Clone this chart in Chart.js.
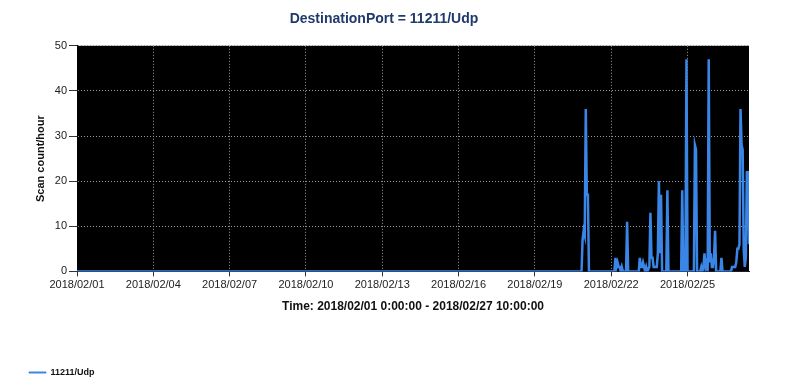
<!DOCTYPE html>
<html>
<head>
<meta charset="utf-8">
<script src="https://cdn.jsdelivr.net/npm/chart.js@4/dist/chart.umd.min.js"></script>
<style>
html,body{margin:0;padding:0;background:#fff;}
#wrap{width:800px;height:390px;}
</style>
</head>
<body>
<div id="wrap"><canvas id="c" width="800" height="390"></canvas></div>
<script>
// Hours since 2018/02/01 0:00 (sparse; the series is 0 between listed points)
const hours = [0, 476, 477, 478, 479, 480, 481, 482, 483,
  507, 508, 509, 510, 511, 512, 513, 514, 515, 518, 519, 520,
  530, 531, 532, 533, 534, 535, 536, 537, 538, 540, 541, 542, 543, 544, 545, 546, 547, 548, 549, 550, 551, 552,
  556, 557, 558,
  570, 571, 572,
  574, 575, 576,
  582, 583, 584, 585,
  588, 589, 590, 591, 592, 593, 594, 595, 596, 597, 598, 599, 600, 601, 602, 603,
  607, 608, 609,
  617, 618, 619, 620, 621, 622, 623, 624, 625, 626, 627, 628, 629, 630, 631, 632, 633, 634];
const scanCounts = [0, 0, 7, 9, 8, 36, 17, 17, 0,
  0, 3, 1, 2, 1, 1, 0, 1, 0, 0, 11, 0,
  0, 3, 1, 1, 2, 1, 0, 1, 0, 1, 13, 3, 3, 1, 1, 1, 1, 4, 20, 4, 17, 0,
  0, 18, 0,
  0, 18, 0,
  0, 47, 0,
  0, 28, 27, 0,
  0, 1, 0, 1, 4, 1, 2, 0, 47, 2, 4, 1, 1, 3, 9, 0,
  0, 3, 0,
  0, 1, 1, 1, 1, 2, 5, 5, 6, 36, 28, 27, 5, 1, 3, 22, 22, 6];
const tickHours = [0, 72, 144, 216, 288, 360, 432, 504, 576];
const tickLabels = ['2018/02/01','2018/02/04','2018/02/07','2018/02/10','2018/02/13','2018/02/16','2018/02/19','2018/02/22','2018/02/25'];
const seriesName = '11211/Udp';
const chartTitle = 'DestinationPort = 11211/Udp';
const xTitle = 'Time: 2018/02/01 0:00:00 - 2018/02/27 10:00:00';
const yTitle = 'Scan count/hour';
const lastHour = 634;

const points = hours.map((h, i) => ({x: h, y: scanCounts[i]}));

const blackArea = {
  id: 'blackArea',
  beforeDraw(chart) {
    const {ctx, chartArea: a} = chart;
    ctx.save();
    ctx.fillStyle = '#000';
    ctx.fillRect(a.left, a.top, a.right - a.left, a.bottom - a.top);
    ctx.restore();
  }
};

const FONT = "'Liberation Sans', Arial, sans-serif";
const LINE = '#3a86e6';

new Chart(document.getElementById('c'), {
  type: 'line',
  data: {
    datasets: [{
      label: seriesName,
      data: points,
      borderColor: LINE,
      backgroundColor: LINE,
      borderWidth: 2.5,
      pointRadius: 0,
      tension: 0,
      fill: false
    }]
  },
  options: {
    responsive: false,
    animation: false,
    layout: {padding: {left: 19, right: 51, top: 0, bottom: 3}},
    plugins: {
      title: {
        display: true,
        text: chartTitle,
        color: '#1f3a6b',
        font: {family: FONT, size: 14, weight: 'bold'},
        padding: {top: 11, bottom: 18}
      },
      legend: {
        display: true,
        position: 'bottom',
        align: 'start',
        labels: {
          boxWidth: 17,
          boxHeight: 1,
          color: '#111',
          font: {family: FONT, size: 9, weight: 'bold'},
          padding: 10,
          generateLabels: (chart) => {
            const items = Chart.defaults.plugins.legend.labels.generateLabels(chart);
            items.forEach(it => { it.lineWidth = 1; });
            return items;
          }
        }
      },
      tooltip: {enabled: false}
    },
    scales: {
      x: {
        type: 'linear',
        min: 0,
        max: lastHour,
        afterBuildTicks: (scale) => { scale.ticks = tickHours.map(v => ({value: v})); },
        ticks: {
          autoSkip: false,
          maxRotation: 0,
          color: '#222',
          font: {family: FONT, size: 11},
          padding: 2,
          callback: (v) => { const i = tickHours.indexOf(v); return i >= 0 ? tickLabels[i] : ''; }
        },
        grid: {
          color: '#9a9a9a',
          lineWidth: 1,
          tickLength: 5,
          tickColor: '#333',
          tickBorderDash: [],
          tickWidth: 1
        },
        border: {display: true, color: '#1a1a3a', width: 1, dash: [1, 2]},
        title: {
          display: true,
          text: xTitle,
          color: '#111',
          font: {family: FONT, size: 12, weight: 'bold'},
          padding: {top: 6, bottom: 44}
        }
      },
      y: {
        min: 0,
        max: 50,
        afterFit: (scale) => { scale.width = 58; },
        ticks: {
          stepSize: 10,
          color: '#222',
          font: {family: FONT, size: 11},
          padding: 2
        },
        grid: {
          color: '#9a9a9a',
          lineWidth: 1,
          tickLength: 8,
          tickColor: '#333',
          tickBorderDash: [],
          tickWidth: 1
        },
        border: {display: true, color: '#000', width: 1, dash: [1, 2]},
        title: {
          display: true,
          text: yTitle,
          color: '#111',
          font: {family: FONT, size: 11, weight: 'bold'},
          padding: {top: 15, bottom: 0}
        }
      }
    }
  },
  plugins: [blackArea]
});
</script>
</body>
</html>
